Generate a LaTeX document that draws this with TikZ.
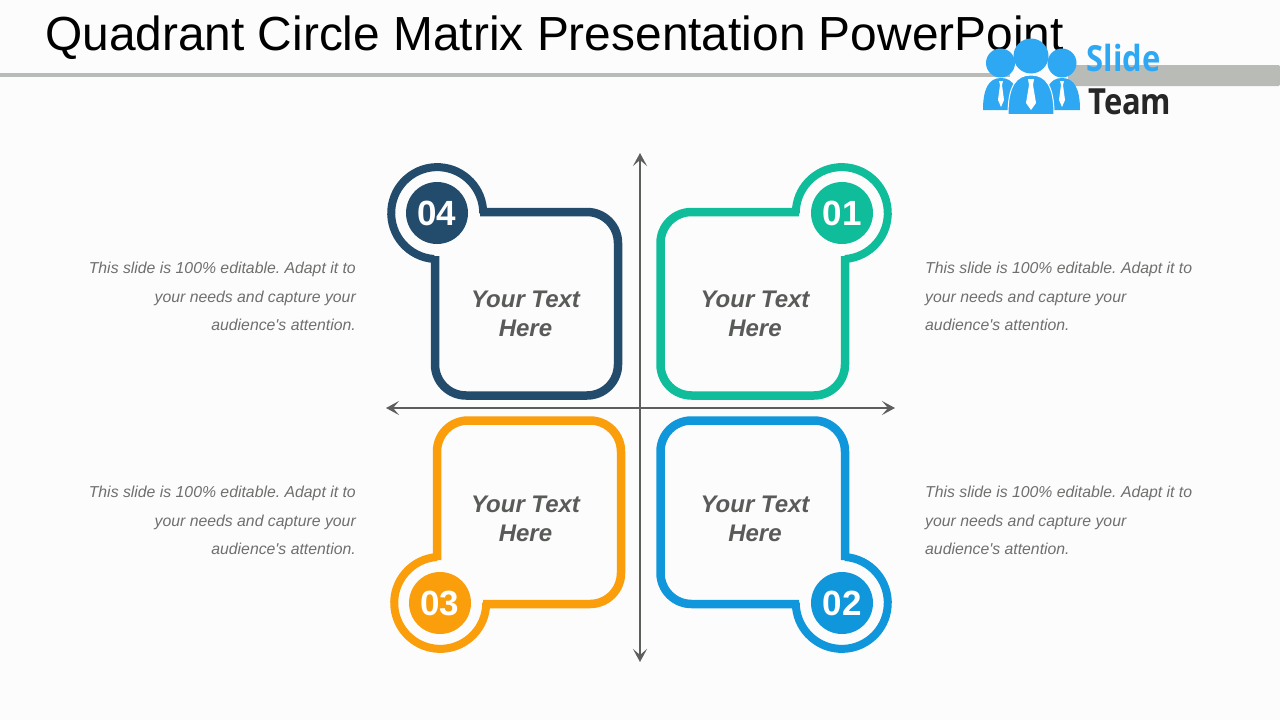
\documentclass[tikz,border=0pt]{standalone}
\usepackage{fontspec}
\setmainfont{Liberation Sans}
\newfontfamily\notefont{Liberation Sans}
\newfontfamily\logofont[FakeStretch=0.86]{Open Sans}
\usetikzlibrary{arrows.meta}
\definecolor{navyq}{HTML}{234B6B}
\definecolor{tealq}{HTML}{0FBD9B}
\definecolor{blueq}{HTML}{0F96DB}
\definecolor{orangeq}{HTML}{FB9E0B}
\definecolor{axisgrey}{HTML}{5C5F5C}
\definecolor{bargrey}{HTML}{B9BBB7}
\definecolor{textgrey}{HTML}{595B58}
\definecolor{notegrey}{HTML}{6E706D}
\definecolor{logoblue}{HTML}{2FA8F4}
\tikzset{
	axisline/.style={draw=axisgrey, line width=1.8pt, {Stealth[length=13pt,width=14pt,inset=6pt]}-{Stealth[length=13pt,width=14pt,inset=6pt]}},
	ringline/.style={draw=#1, line width=8pt},
	numdisc/.style={circle, fill=#1, minimum size=62pt, inner sep=0pt, text=white, font=\bfseries\fontsize{35}{35}\selectfont},
	boxline/.style={draw=#1, line width=8.5pt, rounded corners=31pt},
	midtext/.style={align=center, text=textgrey, font=\bfseries\itshape\fontsize{24}{29}\selectfont},
	note/.style={text=notegrey, inner sep=0pt, font=\notefont\frenchspacing\itshape\fontsize{15.8}{28.4}\selectfont},
	logobody/.style={fill=logoblue},
	logotie/.style={fill=white},
}
\begin{document}
\begin{tikzpicture}[x=1pt, y=-1pt]
	\useasboundingbox[fill=white!99!black] (0,0) rectangle (1280,720);
	\node (title) [anchor=base west, inner sep=0pt, font=\fontsize{47.85}{48}\selectfont] at (45,50) {Quadrant Circle Matrix Presentation PowerPoint};
	\fill[bargrey] (0,73) rectangle (1010,77);
	\fill[bargrey, rounded corners=1.5pt] (1068,65) rectangle (1280,86);

	% logo
	\fill[logobody] (983,110) .. controls (983,90) and (988,78) .. (1001,78) .. controls (1014,78) and (1019,90) .. (1019,110) -- cycle;
	\fill[logobody] (1044,110) .. controls (1044,90) and (1049,78) .. (1062,78) .. controls (1075,78) and (1080,90) .. (1080,110) -- cycle;
	\draw[logobody, draw=white, line width=1pt] (1008,114.5) .. controls (1008,86) and (1016,75) .. (1031,75) .. controls (1046,75) and (1054,86) .. (1054,114.5) -- cycle;
	\fill[logoblue] (1000.5,63) circle (14.5);
	\fill[logoblue] (1062,63) circle (14.5);
	\fill[logoblue] (1031,56) circle (17.5);
	\fill[logotie] (999,81) -- (1003,81) -- (1002,85) -- (1004,100) -- (1001,107) -- (998,100) -- (1000,85) -- cycle;
	\fill[logotie] (1060,81) -- (1064,81) -- (1063,85) -- (1065,100) -- (1062,107) -- (1059,100) -- (1061,85) -- cycle;
	\fill[logotie] (1028,79) -- (1034,79) -- (1033,85) -- (1036,103) -- (1031,110) -- (1026,103) -- (1029,85) -- cycle;
	\node (slide) [anchor=base west, inner sep=0pt, text=logoblue, font=\logofont\bfseries\fontsize{36}{36}\selectfont] at (1086.5,71.5) {Slide};
	\node (team) [anchor=base west, inner sep=0pt, text=black!85, font=\logofont\bfseries\fontsize{36}{36}\selectfont] at (1088,114) {Team};

	% axes
	\coordinate (top) at (640,153);
	\coordinate (bottom) at (640,662);
	\coordinate (left) at (386,408);
	\coordinate (right) at (895,408);
	\draw[axisline] (top) -- (bottom);
	\draw[axisline] (left) -- (right);

	% quadrants
	\draw[boxline=navyq] (480,212) -- (618,212) -- (618,395.5) -- (435,395.5) -- (435,256);
	\draw[ringline=navyq] (434,259) arc (94:360:46);
	\node (num4) [numdisc=navyq] at (437,213) {04};
	\draw[boxline=tealq] (799,212) -- (660.5,212) -- (660.5,395.5) -- (845,395.5) -- (845,256);
	\draw[ringline=tealq] (845,259) arc (86:-180:46);
	\node (num1) [numdisc=tealq] at (842,213) {01};
	\draw[boxline=orangeq] (483,604) -- (621,604) -- (621,420.5) -- (437,420.5) -- (437,560);
	\draw[ringline=orangeq] (437,557) arc (266:0:46);
	\node (num3) [numdisc=orangeq] at (440,603) {03};
	\draw[boxline=blueq] (799,604) -- (660.5,604) -- (660.5,420.5) -- (845,420.5) -- (845,560);
	\draw[ringline=blueq] (845,557) arc (-86:180:46);
	\node (num2) [numdisc=blueq] at (842,603) {02};

	\node (text4) [midtext] at (525.5,314) {Your Text\\Here};
	\node (text1) [midtext] at (755,314) {Your Text\\Here};
	\node (text3) [midtext] at (525.5,519) {Your Text\\Here};
	\node (text2) [midtext] at (755,519) {Your Text\\Here};

	% side notes
	\node (note4) [note, anchor=east, align=right] at (356,296.5) {This slide is 100\% editable. Adapt it to\\your needs and capture your\\audience's attention.};
	\node (note3) [note, anchor=east, align=right] at (356,520.5) {This slide is 100\% editable. Adapt it to\\your needs and capture your\\audience's attention.};
	\node (note1) [note, anchor=west, align=left] at (925,296.5) {This slide is 100\% editable. Adapt it to\\your needs and capture your\\audience's attention.};
	\node (note2) [note, anchor=west, align=left] at (925,520.5) {This slide is 100\% editable. Adapt it to\\your needs and capture your\\audience's attention.};
\end{tikzpicture}
\end{document}
